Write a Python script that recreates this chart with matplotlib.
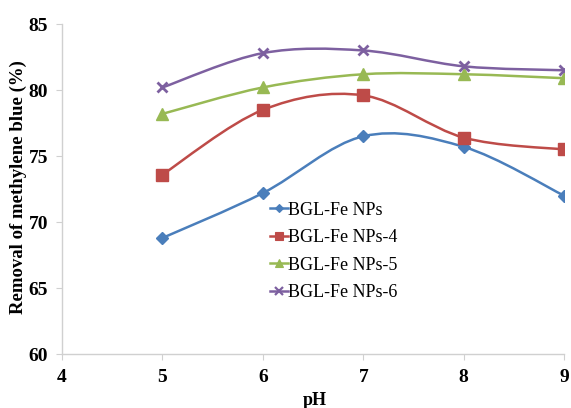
import numpy as np
import matplotlib
matplotlib.use("Agg")
import matplotlib.pyplot as plt
from matplotlib.path import Path
from matplotlib.patches import PathPatch
from matplotlib.lines import Line2D

plt.rcParams['font.family'] = ['Liberation Serif', 'DejaVu Serif']

ph = [5, 6, 7, 8, 9]
bgl = [68.8, 72.2, 76.5, 75.7, 72.0]
bgl4 = [73.6, 78.5, 79.6, 76.4, 75.5]
bgl5 = [78.2, 80.2, 81.2, 81.2, 80.9]
bgl6 = [80.2, 82.8, 83.0, 81.8, 81.5]
labels = ["BGL-Fe NPs", "BGL-Fe NPs-4", "BGL-Fe NPs-5", "BGL-Fe NPs-6"]
colors = ["#4a7ebb", "#be4b48", "#98b954", "#7d60a0"]
markers = ["D", "s", "^", "x"]
msizes = [6, 8, 8, 7]

fig = plt.figure(figsize=(5.71, 4.08), dpi=100)
ax = fig.add_axes([0.1086, 0.132, 0.8794, 0.809])


def smooth_path(xs, ys):
    pts = np.column_stack([xs, ys]).astype(float)
    n = len(pts)
    verts = [pts[0]]
    codes = [Path.MOVETO]
    for i in range(n - 1):
        p0 = pts[i - 1] if i > 0 else pts[i]
        p1 = pts[i]
        p2 = pts[i + 1]
        p3 = pts[i + 2] if i + 2 < n else pts[i + 1]
        c1 = p1 + (p2 - p0) / 6.0
        c2 = p2 - (p3 - p1) / 6.0
        verts += [c1, c2, p2]
        codes += [Path.CURVE4] * 3
    return Path(verts, codes)


handles = []
for ys, lab, c, m, ms in zip([bgl, bgl4, bgl5, bgl6], labels, colors, markers, msizes):
    patch = PathPatch(smooth_path(ph, ys), facecolor='none', edgecolor=c, lw=1.8, zorder=2)
    ax.add_patch(patch)
    mew = 2 if m == 'x' else 1
    ax.plot(ph, ys, linestyle='none', marker=m, color=c, markersize=ms, mew=mew, zorder=3)
    handles.append(Line2D([0], [0], color=c, lw=1.8, marker=m, markersize=ms * 0.75,
                          mew=mew * 0.8, label=lab))

ax.set_xlim(4, 9)
ax.set_ylim(60, 85)
ax.set_xticks([4, 5, 6, 7, 8, 9])
ax.set_yticks([60, 65, 70, 75, 80, 85])
for s in ['top', 'right']:
    ax.spines[s].set_visible(False)
for s in ['left', 'bottom']:
    ax.spines[s].set_color('#d0d0d0')
    ax.spines[s].set_linewidth(1)
ax.tick_params(axis='both', colors='#d0d0d0', length=4, labelcolor='black', labelsize=14)
for t in ax.get_xticklabels() + ax.get_yticklabels():
    t.set_fontweight('bold')
ax.tick_params(axis='x', pad=7)
ax.tick_params(axis='y', pad=6)

ax.set_xlabel('pH', fontsize=13, fontweight='bold')
ax.xaxis.set_label_coords(0.504, -0.115)
ax.set_ylabel('Removal of methylene blue (%)', fontsize=13.5, fontweight='bold')
ax.yaxis.set_label_coords(-0.07, 0.506)

leg = ax.legend(handles=handles, loc='upper left', bbox_to_anchor=(0.414, 0.462), frameon=False,
                fontsize=13, handlelength=1.0, handletextpad=0.0, labelspacing=0.58,
                borderpad=0, borderaxespad=0)

fig.savefig('out.png', dpi=100)
